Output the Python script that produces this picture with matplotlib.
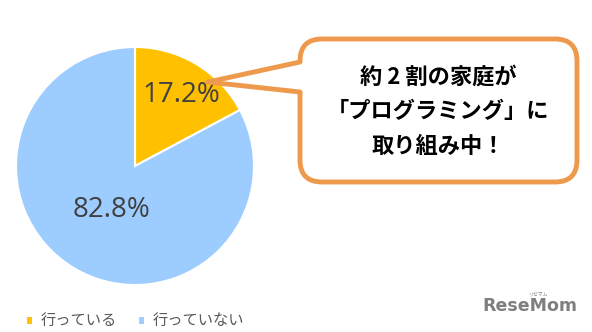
import numpy as np
import matplotlib.pyplot as plt
from matplotlib.patches import FancyBboxPatch, Polygon

plt.rcParams['font.family'] = ['Noto Sans CJK JP', 'DejaVu Sans']

labels = ['行っている', '行っていない']
values = [17.2, 82.8]
colors = ['#FFC000', '#9DCCFF']
label_dist = [0.70, 0.43]

callout = '約 2 割の家庭が\n「プログラミング」に\n取り組み中！'

W, H = 592, 332
fig = plt.figure(figsize=(W / 100, H / 100), dpi=100)
ax = fig.add_axes([0, 0, 1, 1])

cx, cy, r = 135, H - 166, 119
wedges, _ = ax.pie(values, colors=colors, startangle=90, counterclock=False,
                   center=(cx, cy), radius=r,
                   wedgeprops=dict(edgecolor='white', linewidth=1.5))

# percentage labels at wedge middles
for w, v, d in zip(wedges, values, label_dist):
    ang = np.deg2rad((w.theta1 + w.theta2) / 2)
    ax.text(cx + d * r * np.cos(ang) + 3, cy + d * r * np.sin(ang), f'{v}%',
            ha='center', va='center', fontsize=20, color='#404040',
            family=['Open Sans', 'DejaVu Sans'])

# speech bubble
orange = '#EE9A4D'
box = FancyBboxPatch((300, H - 182), 277, 143,
                     boxstyle='round,pad=0,rounding_size=22',
                     facecolor='white', edgecolor=orange, linewidth=3.5, zorder=3)
ax.add_patch(box)
tip = (208, H - 82)
b1 = (300, H - 62)
b2 = (300, H - 92)
ax.add_patch(Polygon([tip, (303, b1[1]), (303, b2[1])], closed=True,
                     facecolor='white', edgecolor='none', zorder=4))
ax.plot([tip[0], b1[0]], [tip[1], b1[1]], color=orange, lw=3.5, zorder=5,
        solid_capstyle='round')
ax.plot([tip[0], b2[0]], [tip[1], b2[1]], color=orange, lw=3.5, zorder=5,
        solid_capstyle='round')
ax.text(438, H - 112, callout, ha='center', va='center', fontsize=16,
        fontweight='bold', color='black', linespacing=1.65, zorder=6)

# legend
leg = ax.legend(wedges, labels, loc='lower left', bbox_to_anchor=(12 / W, -0.035),
                ncol=2, frameon=False, fontsize=11, handlelength=0.45,
                handleheight=0.45, handletextpad=0.5, columnspacing=1.4)
for t in leg.get_texts():
    t.set_color('#595959')

# watermark
ax.text(482, H - 306, 'ReseMom', fontsize=12.5, fontweight='bold', color='#7F7F7F',
        va='center', ha='left', family=['DejaVu Sans'])
ax.text(548, H - 294, 'リセマム', fontsize=3.5, color='#7F7F7F', ha='right', va='center')

ax.set_xlim(0, W)
ax.set_ylim(0, H)
ax.set_aspect('equal')
ax.axis('off')

fig.savefig('out.png', dpi=100, facecolor='white')
